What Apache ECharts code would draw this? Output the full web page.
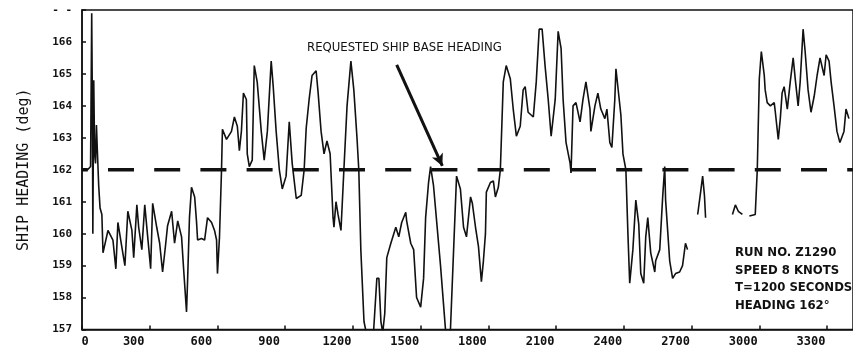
<!DOCTYPE html>
<html>
<head>
<meta charset="utf-8">
<script src="https://cdn.jsdelivr.net/npm/echarts@6/dist/echarts.min.js"></script>
<style>
  html, body { margin: 0; padding: 0; background: #fff; }
  #chart { width: 853px; height: 354px; }
</style>
</head>
<body>
<div id="chart"></div>
<script>
// Elapsed time (s) and recorded ship heading (deg); null marks a break in the trace
const seconds = [
  0, 25, 38, 43, 46, 48, 52, 56, 60, 64, 68, 74, 80, 88, 93,
  115, 137, 150, 159, 176, 190, 203, 221, 229, 243, 251, 265, 278, 291, 304,
  313, 331, 344, 357, 371, 379, 397, 410, 424, 441, 450, 463, 468, 476, 485,
  499, 507, 512, 529, 543, 556, 574, 587, 596, 600, 609, 618, 622, 640, 662,
  675, 688, 697, 706, 715, 728, 732, 741, 754, 763, 776, 794, 807, 821, 838,
  847, 860, 874, 887, 904, 918, 931, 949, 971, 984, 993, 1006, 1019, 1037, 1046,
  1059, 1072, 1085, 1099, 1112, 1116, 1125, 1134, 1147, 1160, 1174, 1191, 1204, 1218, 1226,
  1235, 1249, 1262, 1284, 1292, 1306, 1315, 1324, 1332, 1341, 1350, 1368, 1390, 1403, 1416,
  1434, 1438, 1456, 1469, 1482, 1500, 1513, 1522, 1535, 1544, 1557, 1588, 1610, 1619, 1632,
  1646, 1659, 1676, 1690, 1703, 1721, 1729, 1743, 1756, 1769, 1778, 1787, 1791, 1809, 1822,
  1831, 1844, 1853, 1866, 1879, 1897, 1910, 1924, 1941, 1954, 1963, 1976, 1999, 2012, 2025,
  2038, 2051, 2065, 2078, 2096, 2109, 2122, 2131, 2144, 2162, 2166, 2175, 2188, 2206, 2219,
  2232, 2250, 2254, 2272, 2285, 2298, 2316, 2325, 2338, 2347, 2360, 2365, 2378, 2387, 2396,
  2409, 2418, 2426, 2440, 2453, 2466, 2475, 2488, 2497, 2506, 2519, 2537, 2541, 2559, 2572,
  2581, 2585, 2603, 2616, 2629, 2647, 2660, 2673, 2682, 2700,
  2727, 2740, 2749, 2757, 2762, 2820,
  2881, 2894, 2907, 2925, 2940,
  2956, 2982, 2991, 3000, 3009, 3022, 3026, 3035, 3049, 3066, 3071, 3084, 3093, 3101, 3110,
  3124, 3137, 3150, 3159, 3172, 3181, 3194, 3203, 3216, 3229, 3243, 3256, 3269, 3287, 3296,
  3309, 3318, 3331, 3344, 3357, 3375, 3384, 3397
];
const heading = [
  162.0, 162.0, 162.1, 166.9, 164.0, 160.0, 164.8, 162.5, 162.2, 163.4, 162.6, 161.5, 160.8, 160.6, 159.4,
  160.1, 159.8, 158.9, 160.35, 159.6, 159.0, 160.7, 160.1, 159.25, 160.9, 160.2, 159.5, 160.9, 159.9, 158.9,
  160.95, 160.2, 159.7, 158.8, 159.7, 160.25, 160.7, 159.7, 160.4, 159.9, 158.9, 157.55, 158.6, 160.5, 161.45,
  161.15, 160.4, 159.8, 159.85, 159.8, 160.5, 160.35, 160.1, 159.8, 158.75, 159.9, 162.0, 163.27, 162.95, 163.2,
  163.65, 163.36, 162.6, 163.2, 164.4, 164.2, 162.5, 162.1, 162.3, 165.26, 164.75, 163.2, 162.3, 163.2, 165.4,
  164.6, 163.2, 162.0, 161.4, 161.8, 163.5, 162.2, 161.1, 161.2, 162.0, 163.3, 164.2, 164.95, 165.1, 164.4,
  163.2, 162.5, 162.9, 162.5, 160.5, 160.2, 161.0, 160.6, 160.1, 162.0, 164.0, 165.4, 164.5, 163.0, 162.0,
  159.5, 157.25, 156.8, 156.8, 157.0, 158.6, 158.6, 157.25, 156.9, 157.5, 159.25, 159.7, 160.2, 159.9, 160.35,
  160.67, 160.4, 159.7, 159.5, 158.0, 157.7, 158.6, 160.5, 161.6, 162.1, 161.5, 159.0, 157.0, 156.7, 157.0,
  159.5, 161.8, 161.4, 160.2, 159.9, 161.15, 160.95, 160.2, 159.6, 158.5, 159.15, 160.0, 161.3, 161.6, 161.65,
  161.15, 161.45, 162.0, 164.75, 165.26, 164.85, 163.9, 163.05, 163.36, 164.5, 164.6, 163.8, 163.65, 164.75, 166.4,
  166.4, 165.26, 164.2, 163.05, 164.2, 166.33, 165.8, 164.2, 162.85, 162.2, 161.9, 164.0, 164.1, 163.5, 164.2,
  164.75, 163.9, 163.2, 164.0, 164.4, 163.9, 163.6, 163.9, 162.85, 162.7, 164.2, 165.16, 164.3, 163.7, 162.5,
  162.0, 160.0, 158.45, 159.5, 161.05, 160.3, 158.75, 158.45, 159.9, 160.5, 159.4, 158.8, 159.15, 159.5, 161.15,
  162.1, 161.05, 159.15, 158.6, 158.75, 158.8, 159.0, 159.7, 159.5, null,
  160.6, 161.3, 161.8, 161.2, 160.5, null,
  160.6, 160.9, 160.7, 160.6, null,
  160.55, 160.6, 162.0, 164.85, 165.7, 164.95, 164.5, 164.1, 164.0, 164.1, 163.8, 162.95, 163.6, 164.4, 164.6,
  163.9, 164.75, 165.5, 164.85, 164.0, 164.75, 166.4, 165.7, 164.5, 163.8, 164.3, 164.95, 165.5, 164.95, 165.6,
  165.4, 164.75, 164.0, 163.2, 162.85, 163.2, 163.9, 163.6
];

// Requested base heading (deg) held over the whole run
const baseHeading = 162;
const baseSpan = [0, 3415];

// Axis ticks
const xTicks = [0, 300, 600, 900, 1200, 1500, 1800, 2100, 2400, 2700, 3000, 3300];
const yTicks = [157, 158, 159, 160, 161, 162, 163, 164, 165, 166, 167];

// Arrow of the base-heading callout, in data units [s, deg]
const arrowFrom = [1394, 165.28];
const arrowTo = [1596, 162.12];

const runNotes = ['RUN NO. Z1290', 'SPEED 8 KNOTS', 'T=1200 SECONDS', 'HEADING 162\u00B0'];

const trace = seconds.map((t, i) => [t, heading[i] === null ? '-' : heading[i]]);
const baseLine = baseSpan.map(t => [t, baseHeading]);

const monoFont = '"DejaVu Sans Mono", "Liberation Mono", monospace';
const condFont = '"DejaVu Sans Condensed", "Liberation Sans Narrow", "DejaVu Sans", sans-serif';

const chart = echarts.init(document.getElementById('chart'), null, { renderer: 'canvas' });

chart.setOption({
  animation: false,
  backgroundColor: '#ffffff',
  grid: {
    left: 82, top: 10, width: 774, bottom: 24.5,
    show: true, borderColor: '#111', borderWidth: 1.5
  },
  xAxis: {
    type: 'value',
    min: 0, max: 3415, interval: 300,
    splitLine: { show: false },
    axisLine: { show: true, lineStyle: { color: '#111', width: 1.5 } },
    axisTick: { show: true, inside: true, length: 4, lineStyle: { color: '#111', width: 1.5 } },
    axisLabel: {
      margin: 6,
      color: '#111',
      fontFamily: monoFont,
      fontWeight: 'bold',
      fontSize: 12,
      showMaxLabel: false,
      formatter: v => {
        if (xTicks.indexOf(v) < 0) return '';
        return v === 0 ? '{z|0}' : '{n|' + v + '}';
      },
      rich: {
        z: { padding: [0, 0, 0, 6], fontFamily: monoFont, fontWeight: 'bold', fontSize: 12, color: '#111' },
        n: { padding: [0, 32, 0, 0], fontFamily: monoFont, fontWeight: 'bold', fontSize: 12, color: '#111' }
      }
    }
  },
  yAxis: {
    type: 'value',
    min: 157, max: 167, interval: 1,
    name: 'SHIP HEADING (deg)',
    nameLocation: 'middle',
    nameGap: 50,
    nameRotate: 90,
    nameTextStyle: { color: '#111', fontFamily: monoFont, fontSize: 15 },
    splitLine: { show: false },
    axisLine: { show: true, lineStyle: { color: '#111', width: 1.5 } },
    axisTick: { show: true, inside: true, length: 4, lineStyle: { color: '#111', width: 1.5 } },
    axisLabel: {
      margin: 10,
      color: '#111',
      fontFamily: monoFont,
      fontWeight: 'bold',
      fontSize: 11,
      formatter: v => (v === 167 ? '- -' : yTicks.indexOf(v) >= 0 ? String(v) : '')
    }
  },
  series: [
    {
      name: 'Requested base heading',
      type: 'line',
      data: baseLine,
      symbol: 'none',
      z: 3,
      lineStyle: { color: '#111', width: 3.5, type: [26, 20.2], dashOffset: 20.2 },
      markLine: {
        silent: true,
        symbol: ['none', 'arrow'],
        symbolSize: [9, 12],
        label: { show: false },
        lineStyle: { color: '#111', width: 3, type: 'solid' },
        data: [[{ coord: arrowFrom }, { coord: arrowTo }]]
      }
    },
    {
      name: 'Ship heading',
      type: 'line',
      data: trace,
      symbol: 'none',
      connectNulls: false,
      clip: true,
      z: 4,
      lineStyle: { color: '#111', width: 1.6 }
    }
  ],
  graphic: [
    {
      type: 'text', left: 307, top: 41,
      style: {
        text: 'REQUESTED SHIP BASE HEADING',
        fill: '#111', font: '13px ' + condFont
      }
    },
    {
      type: 'text', left: 735, top: 244,
      style: {
        text: runNotes.join('\n'),
        fill: '#111', font: 'bold 13px ' + condFont, lineHeight: 17.6
      }
    }
  ]
});
</script>
</body>
</html>
